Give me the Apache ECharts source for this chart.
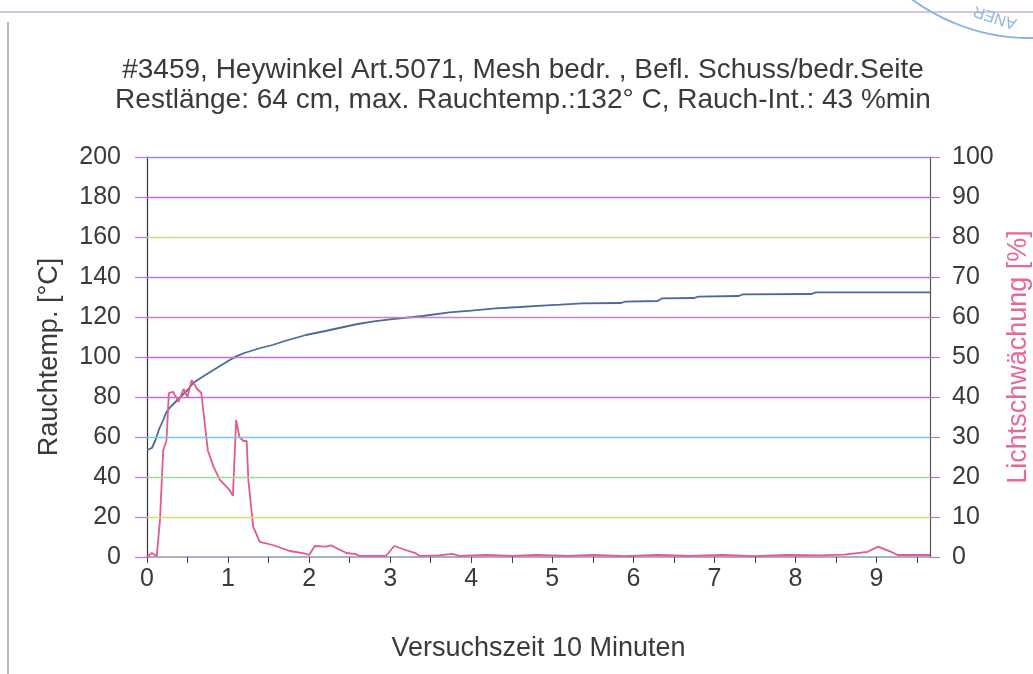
<!DOCTYPE html>
<html>
<head>
<meta charset="utf-8">
<script src="https://cdn.jsdelivr.net/npm/echarts@6/dist/echarts.min.js"></script>
<style>html,body{margin:0;padding:0;background:#fff;}#c{width:1033px;height:674px;}</style>
</head>
<body>
<div id="c"></div>
<script>
// Rauchtemperatur (left axis, °C)
var tempTime = [0,0.06,0.1,0.15,0.2,0.24,0.3,0.4,0.5,0.57,0.7,0.8,0.9,1.0,1.1,1.2,1.4,1.55,1.7,1.96,2.2,2.37,2.6,2.8,3.0,3.4,3.73,4.0,4.3,4.6,4.87,5.1,5.37,5.85,5.9,6.3,6.35,6.75,6.8,7.3,7.35,8.2,8.25,9.66];
var tempVals = [53.5,54.5,58,64,68.5,72.5,75.5,79.5,83.5,87,90.5,93,95.5,98,100.3,102,104.5,106,108,111,113,114.5,116.5,117.8,118.8,120.5,122.3,123.2,124.3,125,125.7,126.2,126.8,127,127.7,128,129.3,129.5,130.2,130.5,131.3,131.5,132.3,132.3];
// Lichtschwächung (right axis, %)
var smokeTime = [0,0.06,0.12,0.16,0.2,0.24,0.27,0.32,0.39,0.45,0.5,0.55,0.62,0.67,0.75,0.82,0.9,1.02,1.06,1.1,1.14,1.19,1.23,1.25,1.31,1.39,1.55,1.76,1.94,2.0,2.07,2.21,2.27,2.46,2.58,2.62,2.95,3.05,3.19,3.32,3.36,3.6,3.77,3.85,4.2,4.5,4.8,5.2,5.5,5.9,6.3,6.7,7.1,7.5,7.9,8.3,8.6,8.89,9.02,9.18,9.26,9.66];
var smokeVals = [0,1,0.2,9.3,26.7,29,41,41.3,38.8,42,40,44.2,42,41,26.7,22.6,19.3,16.7,15.3,34.3,30,29,29,19.3,7.6,3.8,3,1.5,0.9,0.5,2.75,2.6,2.9,1,0.7,0.3,0.3,2.75,1.75,0.9,0.3,0.4,0.8,0.3,0.5,0.3,0.5,0.3,0.5,0.2,0.5,0.3,0.5,0.2,0.5,0.4,0.6,1.3,2.6,1.3,0.5,0.5];
var xTicks = [0,1,2,3,4,5,6,7,8,9];
var yGridValues = [20,40,60,80,100,120,140,160,180,200];
var titleLines = ['#3459, Heywinkel Art.5071, Mesh bedr. , Befl. Schuss/bedr.Seite', 'Restlänge: 64 cm, max. Rauchtemp.:132° C, Rauch-Int.: 43 %min'];

function pairs(xs, ys){ return xs.map(function(x,i){ return [x, ys[i]]; }); }

var font = 'Liberation Sans, Arial, sans-serif';
var gridColors = ['#dcdc70','#98dc98','#70cce0','#c070d0','#c070d0','#cc80c0','#b878d8','#d4dc80','#c070d0','#9890d8'];

var chart = echarts.init(document.getElementById('c'));
chart.setOption({
  backgroundColor: '#fff',
  animation: false,
  title: {
    text: titleLines.join('\n'),
    left: 518, top: 50, textAlign: 'center',
    textStyle: { fontFamily: font, fontSize: 28, fontWeight: 'normal', color: '#3a3a3a', lineHeight: 30 }
  },
  grid: { left: 147, right: 103, top: 157, bottom: 117, containLabel: false, outerBoundsMode: 'none' },
  xAxis: {
    type: 'value', min: 0, max: 9.66, interval: 0.5,
    name: 'Versuchszeit 10 Minuten', nameLocation: 'middle', nameGap: 78,
    nameTextStyle: { fontFamily: font, fontSize: 27, color: '#3a3a3a' },
    axisLine: { show: true, onZero: false, lineStyle: { color: '#8a96b4', width: 1.5 } },
    axisTick: { show: true, length: 6, lineStyle: { color: '#444' } },
    splitLine: { show: false },
    axisLabel: {
      showMaxLabel: false, margin: 10,
      fontFamily: font, fontSize: 25, color: '#3a3a3a',
      formatter: function(v){ return xTicks.indexOf(v) >= 0 ? String(v) : ''; }
    }
  },
  yAxis: [{
    type: 'value', min: 0, max: 200, interval: 20,
    name: 'Rauchtemp. [°C]', nameLocation: 'middle', nameGap: 84, nameRotate: 90,
    nameTextStyle: { fontFamily: font, fontSize: 27, color: '#3a3a3a' },
    axisLine: { show: true, lineStyle: { color: '#333', width: 1.2 } },
    axisTick: { show: true, inside: false, length: 12, lineStyle: { color: '#c070d0', width: 1.2 } },
    axisLabel: { margin: 26, fontFamily: font, fontSize: 25, color: '#3a3a3a' },
    splitLine: { show: false }
  }, {
    type: 'value', min: 0, max: 100, interval: 10, position: 'right',
    name: 'Lichtschwächung [%]', nameLocation: 'middle', nameGap: 74, nameRotate: 90,
    nameTextStyle: { fontFamily: font, fontSize: 27, color: '#e8689a' },
    axisLine: { show: true, lineStyle: { color: '#555', width: 1.2 } },
    axisTick: { show: true, length: 10, lineStyle: { color: '#c070d0', width: 1.2 } },
    axisLabel: { margin: 22, fontFamily: font, fontSize: 25, color: '#3a3a3a' },
    splitLine: { show: false }
  }],
  series: [{
    type: 'line', yAxisIndex: 0, data: [], z: 1, silent: true,
    markLine: {
      silent: true, symbol: ['none', 'none'], animation: false,
      label: { show: false },
      data: yGridValues.map(function(v, i){
        return { yAxis: v, lineStyle: { color: gridColors[i], width: 1.4, type: 'solid' } };
      })
    }
  }, {
    type: 'line', yAxisIndex: 0, data: pairs(tempTime, tempVals),
    showSymbol: false, lineStyle: { color: '#4a6a9c', width: 1.8 }, z: 3
  }, {
    type: 'line', yAxisIndex: 1, data: pairs(smokeTime, smokeVals),
    showSymbol: false, lineStyle: { color: '#e45a88', width: 1.8 }, z: 4
  }],
  graphic: [
    { type: 'line', shape: { x1: 0, y1: 12, x2: 1033, y2: 12 }, style: { stroke: '#c8b0d8', lineWidth: 1.5 } },
    { type: 'line', shape: { x1: 8, y1: 22, x2: 8, y2: 674 }, style: { stroke: '#888', lineWidth: 1.2 } },
    { type: 'arc', shape: { cx: 1030, cy: -161, r: 199, startAngle: Math.PI * 0.45, endAngle: Math.PI * 0.8 }, style: { stroke: '#8fb4e0', lineWidth: 2, fill: null } },
    { type: 'text', x: 995, y: 17, rotation: Math.PI * 0.9, style: { text: 'ANER', fill: '#8fb4e0', font: '16px Liberation Sans, Arial', align: 'center', verticalAlign: 'middle' } }
  ]
});
</script>
</body>
</html>
